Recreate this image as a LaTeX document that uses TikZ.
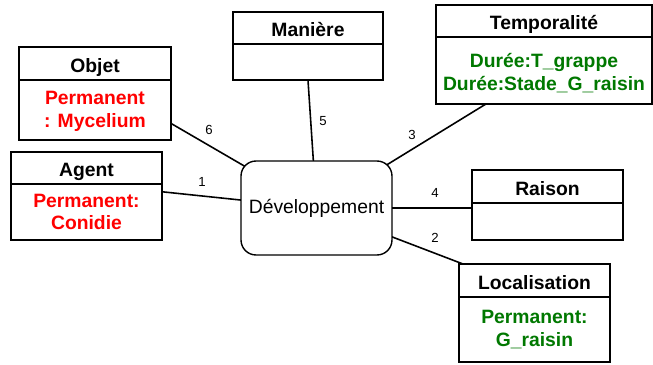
\documentclass[tikz,border=0pt]{standalone}
\usepackage{fontspec}
\setmainfont{Liberation Sans}
\usetikzlibrary{positioning,backgrounds}

\definecolor{permred}{RGB}{255,0,0}
\definecolor{dureegreen}{RGB}{0,120,0}

\tikzset{
    classtitle/.style={draw, line width=0.8pt, inner sep=0pt, outer sep=0pt, anchor=north west, text height=1em, text depth=0pt, font=\fontsize{11}{13}\selectfont\bfseries},
    classbody/.style={draw, line width=0.8pt, inner sep=0pt, outer sep=0pt, align=center, font=\fontsize{11}{13}\selectfont\bfseries},
    process/.style={draw, line width=0.8pt, fill=white, rounded corners=0.3cm, minimum width=3.02cm, minimum height=1.88cm, inner sep=0pt, font=\fontsize{11}{13}\selectfont},
    link/.style={line width=0.9pt},
    card/.style={font=\fontsize{7.5}{9}\selectfont}
}

\begin{document}
\begin{tikzpicture}[x=0.02cm, y=-0.02cm]
    \useasboundingbox (0,0) rectangle (653,365);

    % Central process
    \node[process] (dev) at (316.5,208) {Développement};

    % Objet
    \node[classtitle, minimum width=3.04cm, minimum height=0.66cm] (objT) at (19,47) {Objet};
    \node[classbody, minimum width=3.04cm, minimum height=1.2cm, below=0pt of objT, text=permred, text height=22.6pt] (objB) {Permanent\\: Mycelium};

    % Agent
    \node[classtitle, minimum width=3.02cm, minimum height=0.64cm] (ageT) at (11,152) {Agent};
    \node[classbody, minimum width=3.02cm, minimum height=1.12cm, below=0pt of ageT, text=permred] (ageB) {Permanent:\\Conidie};

    % Maniere
    \node[classtitle, minimum width=3cm, minimum height=0.64cm] (manT) at (233,12) {Manière};
    \node[classbody, minimum width=3cm, minimum height=0.72cm, below=0pt of manT] (manB) {};

    % Temporalite
    \node[classtitle, minimum width=4.32cm, minimum height=0.64cm] (temT) at (436,5) {Temporalité};
    \node[classbody, minimum width=4.32cm, minimum height=1.34cm, below=0pt of temT, text=dureegreen, text height=24pt] (temB) {Durée:T\_grappe\\Durée:Stade\_G\_raisin};

    % Raison
    \node[classtitle, minimum width=3.02cm, minimum height=0.66cm] (raiT) at (472,170) {Raison};
    \node[classbody, minimum width=3.02cm, minimum height=0.74cm, below=0pt of raiT] (raiB) {};

    % Localisation
    \node[classtitle, minimum width=3.02cm, minimum height=0.66cm] (locT) at (459,264) {Localisation};
    \node[classbody, minimum width=3.02cm, minimum height=1.3cm, below=0pt of locT, text=dureegreen] (locB) {Permanent:\\G\_raisin};

    % Links (ends hidden under the process)
    \begin{scope}[on background layer]
        \draw[link] (objB.-10) -- (dev.center);
        \draw[link] (ageB.15) -- (dev.center);
        \draw[link] (manB.south) -- (dev.center);
        \draw[link] (temB.210) -- (dev.center);
        \draw[link] (dev.center) -- (dev.center -| raiB.west);
        \draw[link] (locT.167) -- (dev.center);
    \end{scope}

    % Role numbers
    \node[card] (n6) at (209,130) {6};
    \node[card] (n1) at (202,182) {1};
    \node[card] (n5) at (323,121) {5};
    \node[card] (n3) at (412,135) {3};
    \node[card] (n4) at (435,193) {4};
    \node[card] (n2) at (435,238) {2};
\end{tikzpicture}
\end{document}
